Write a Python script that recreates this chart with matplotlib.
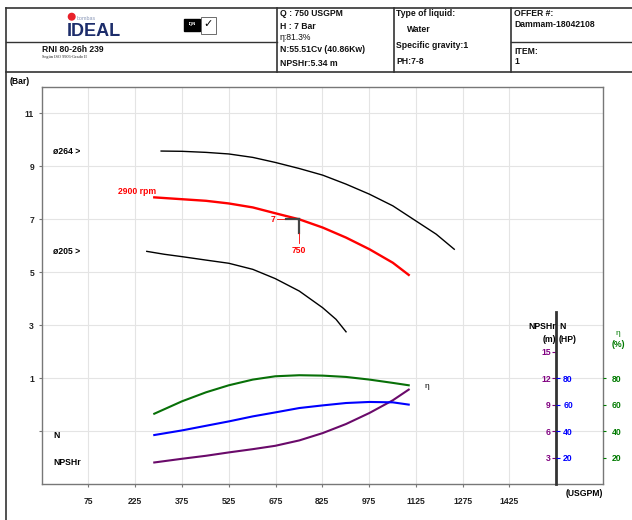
import matplotlib.pyplot as plt
from matplotlib.patches import Circle, Rectangle

plt.rcParams['font.family'] = ['Liberation Sans', 'DejaVu Sans']

# ---- datos de la bomba ----
# curvas H-Q (Bar) para los dos diametros y 2900 rpm
q_264 = [308, 375, 452, 525, 602, 674, 751, 826, 901, 976, 1051, 1125, 1190, 1248]
h_264 = [9.58, 9.57, 9.53, 9.47, 9.34, 9.15, 8.92, 8.67, 8.33, 7.95, 7.51, 6.94, 6.44, 5.87]

q_rpm = [286, 375, 452, 525, 602, 674, 751, 826, 901, 976, 1051, 1102]
h_rpm = [7.83, 7.76, 7.70, 7.60, 7.45, 7.23, 7.00, 6.69, 6.31, 5.87, 5.36, 4.90]

q_205 = [262, 318, 375, 452, 525, 602, 674, 751, 826, 869, 901]
h_205 = [5.79, 5.68, 5.59, 5.46, 5.34, 5.11, 4.76, 4.29, 3.66, 3.22, 2.75]

# rendimiento (%), potencia (HP), NPSHr (m)
q_aux = [286, 375, 452, 525, 602, 674, 751, 826, 901, 976, 1051, 1102]
eta = [53.1, 62.5, 69.3, 74.6, 78.9, 81.4, 82.2, 81.9, 80.9, 78.9, 76.4, 74.6]
pot = [37.0, 40.5, 44.0, 47.3, 51.1, 54.1, 57.4, 59.4, 61.2, 62.0, 61.7, 60.0]
npsh = [2.44, 2.86, 3.20, 3.58, 3.95, 4.33, 4.94, 5.77, 6.80, 8.05, 9.49, 10.70]

# punto de trabajo
q_op = 750
h_op = 7

x_ticks = [75, 225, 375, 525, 675, 825, 975, 1125, 1275, 1425]
y_ticks = [-1, 1, 3, 5, 7, 9, 11]
npsh_ticks = [3, 6, 9, 12, 15]
pot_ticks = [20, 40, 60, 80]
eta_ticks = [20, 40, 60, 80]

info_1 = ["Q : 750 USGPM", "H : 7 Bar", "\u03b7:81.3%", "N:55.51Cv (40.86Kw)", "NPSHr:5.34 m"]
info_2 = ["Type of liquid:", "Water", "Specific gravity:1", "PH:7-8"]
info_3 = ["OFFER #:", "Dammam-18042108", "ITEM:", "1"]

W, H = 632, 520
fig = plt.figure(figsize=(W / 100, H / 100), dpi=100)
fig.patch.set_facecolor('white')

# capa en pixeles para la cabecera
top = fig.add_axes([0, 0, 1, 1])
top.set_xlim(0, W)
top.set_ylim(H, 0)
top.axis('off')

lc = '#333333'
top.plot([6, W], [7.5, 7.5], color=lc, lw=1.2)
top.plot([6, W], [72, 72], color=lc, lw=1.2)
top.plot([6, 6], [7.5, H], color=lc, lw=1.2)
top.plot([6, 276.5], [41.5, 41.5], color=lc, lw=1.0)
top.plot([510.5, W], [41.5, 41.5], color=lc, lw=1.0)
for xv in [276.5, 394, 510.5]:
    top.plot([xv, xv], [7.5, 72], color=lc, lw=1.2)

# logo
top.add_patch(Circle((71.7, 16.7), 3.3, color='#e8202a'))
top.text(77, 19, "bombas", fontsize=3.8, color='#8a98b8', va='center')
top.text(67, 31.5, "IDEAL", fontsize=13, fontweight='bold', color='#1d2d6b', va='center')
top.add_patch(Rectangle((184, 19), 16, 12, color='black'))
top.text(192, 24, "IQN", fontsize=3, color='white', ha='center', va='center', fontweight='bold')
top.add_patch(Rectangle((201, 17), 15, 17, fill=False, ec='#555555', lw=0.6))
top.text(208.5, 24, "\u2713", fontsize=8, color='black', ha='center', va='center', family=['DejaVu Sans'])

top.text(41.7, 49.3, "RNI 80-26h 239", fontsize=6.2, fontweight='bold', va='center', color='#111111')
top.text(41.7, 57.3, "Seg\u00fan ISO 9906-Grado II", fontsize=3.2, va='center',
         family=['Liberation Serif'], color='#222222')

for s, yy in zip(info_1, [14, 26.3, 37, 50, 63.3]):
    w = 'normal' if s.startswith('\u03b7') else 'bold'
    top.text(280, yy, s, fontsize=6.2, fontweight=w, va='center', color='#111111')
for s, yy, xx in zip(info_2, [14, 29, 46, 62], [396, 406.7, 396, 396]):
    top.text(xx, yy, s, fontsize=6.2, fontweight='bold', va='center', color='#111111')
for s, yy in zip(info_3, [13, 24.3, 51, 62]):
    top.text(514, yy, s, fontsize=6.2, fontweight='bold', va='center', color='#111111')

# ---- grafica principal ----
ax = fig.add_axes([41.7 / W, 1 - 484 / H, (603 - 41.7) / W, (484 - 87) / H])
ax.set_xlim(-75, 1725)
ax.set_ylim(-3, 12)
ax.set_xticks(x_ticks)
ax.set_yticks(y_ticks)
ax.set_yticklabels(['' if v < 0 else str(v) for v in y_ticks])
ax.grid(color='#e4e4e4', lw=0.8)
ax.set_axisbelow(True)
for sp in ax.spines.values():
    sp.set_color('#777777')
    sp.set_linewidth(1.0)
ax.tick_params(length=2.5, width=0.8, color='#777777', labelsize=6.2, pad=3)
for lab in ax.get_xticklabels() + ax.get_yticklabels():
    lab.set_fontweight('bold')
    lab.set_color('#222222')
ax.tick_params(axis='x', pad=7)

ax.plot(q_264, h_264, color='black', lw=1.0)
ax.plot(q_rpm, h_rpm, color='#ff0000', lw=1.7)
ax.plot(q_205, h_205, color='black', lw=1.0)

ax.text(-38, h_264[0], "\u00f8264 >", fontsize=6.2, fontweight='bold', va='center')
ax.text(-38, h_205[0], "\u00f8205 >", fontsize=6.2, fontweight='bold', va='center')
ax.text(q_rpm[0] + 5, h_rpm[0] + 0.22, "2900 rpm", fontsize=6.2, fontweight='bold',
        color='#ff0000', ha='right', va='center')
ax.text(-38, -1.15, "N", fontsize=6.2, fontweight='bold', va='center')
ax.text(-38, -2.2, "NPSHr", fontsize=6.2, fontweight='bold', va='center')

# marca del punto de trabajo
ax.plot([q_op - 72, q_op - 40], [h_op, h_op], color='#ff0000', lw=0.6)
ax.plot([q_op - 40, q_op], [h_op, h_op], color='#444444', lw=1.6)
ax.plot([q_op, q_op], [h_op, h_op - 0.5], color='#444444', lw=1.6)
ax.plot([q_op, q_op], [h_op - 0.5, h_op - 0.88], color='#ff0000', lw=0.6)
ax.text(q_op - 76, h_op, str(h_op), fontsize=6.2, fontweight='bold', color='#ff0000',
        ha='right', va='center')
ax.text(q_op, h_op - 1.18, str(q_op), fontsize=6.2, fontweight='bold', color='#ff0000',
        ha='center', va='center')

fig.text(10 / W, 1 - 82 / H, "(Bar)", fontsize=6.2, fontweight='bold', va='center')
fig.text(603 / W, 1 - 494 / H, "(USGPM)", fontsize=6.2, fontweight='bold', va='center', ha='right')

# ---- eje de rendimiento (derecha) ----
ax_eta = ax.twinx()
ax_eta.set_ylim(0, 300)
ax_eta.set_yticks(eta_ticks)
ax_eta.tick_params(axis='y', colors='#007a00', length=2.5, width=0.8, labelsize=6.2)
for lab in ax_eta.get_yticklabels():
    lab.set_fontweight('bold')
for sp in ax_eta.spines.values():
    sp.set_visible(False)
ax_eta.plot(q_aux, eta, color='#087008', lw=1.5)
ax_eta.text(q_aux[-1] + 50, eta[-1] - 1, "\u03b7", fontsize=6, va='center')

# ---- eje NPSHr / potencia (interior) ----
ax_np = ax.twinx()
ax_np.set_ylim(0, 45)
ax_np.yaxis.set_ticks_position('left')
ax_np.yaxis.set_label_position('left')
ax_np.spines['left'].set_position(('data', 1575))
ax_np.spines['left'].set_visible(True)
ax_np.spines['left'].set_bounds(0, 19.5)
ax_np.spines['left'].set_color('#333333')
ax_np.spines['left'].set_linewidth(2.0)
for k in ['right', 'top', 'bottom']:
    ax_np.spines[k].set_visible(False)
ax_np.set_yticks(npsh_ticks)
ax_np.tick_params(axis='y', colors='#800080', length=3, width=0.8, labelsize=6.2, pad=1)
for lab in ax_np.get_yticklabels():
    lab.set_fontweight('bold')
ax_np.plot(q_aux, npsh, color='#6a0a6a', lw=1.5)

ax_n = ax.twinx()
ax_n.set_ylim(0, 300)
ax_n.spines['right'].set_position(('data', 1575))
for sp in ax_n.spines.values():
    sp.set_visible(False)
ax_n.set_yticks(pot_ticks)
ax_n.tick_params(axis='y', colors='#0000ff', length=3, width=0.8, labelsize=6.2, pad=2)
for lab in ax_n.get_yticklabels():
    lab.set_fontweight('bold')
ax_n.plot(q_aux, pot, color='#0000ff', lw=1.5)

# cabeceras de los ejes secundarios
fig.text(556 / W, 1 - 326.7 / H, "NPSHr", fontsize=6.2, fontweight='bold', ha='right', va='center')
fig.text(559 / W, 1 - 326.7 / H, "N", fontsize=6.2, fontweight='bold', ha='left', va='center')
fig.text(556 / W, 1 - 340 / H, "(m)", fontsize=6.2, fontweight='bold', ha='right', va='center')
fig.text(559 / W, 1 - 340 / H, "(HP)", fontsize=6.2, fontweight='bold', ha='left', va='center')
fig.text(618 / W, 1 - 333.3 / H, "\u03b7", fontsize=6, color='#007a00', ha='center', va='center')
fig.text(618 / W, 1 - 344.7 / H, "(%)", fontsize=6.2, fontweight='bold', color='#007a00',
         ha='center', va='center')

fig.savefig('out.png', dpi=100, facecolor='white')
